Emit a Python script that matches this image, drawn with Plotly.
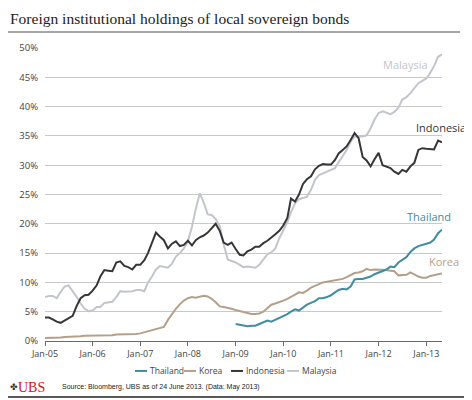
import pandas as pd
import plotly.graph_objects as go

# ---- data (monthly, Jan-2005 .. May-2013) ----
start_month = "2005-01-01"
n_months = 101

indonesia = [4.0, 4.0, 3.7, 3.3, 3.1, 3.5, 3.9, 4.3, 6.0, 7.3,
             7.8, 7.9, 8.6, 9.5, 11.0, 12.1, 12.0, 11.9, 13.4, 13.6,
             12.8, 12.6, 12.2, 13.0, 13.0, 13.8, 15.0, 16.8, 18.5, 17.8,
             17.2, 15.8, 16.6, 17.0, 16.2, 16.4, 17.1, 16.3, 17.2, 17.7,
             18.0, 18.5, 19.3, 20.0, 18.8, 16.8, 16.4, 16.8, 15.7, 14.7,
             14.6, 15.3, 15.6, 16.1, 16.1, 16.7, 17.1, 17.6, 18.2, 18.8,
             19.7, 21.0, 24.3, 23.8, 25.0, 26.8, 27.6, 28.1, 29.3, 29.9,
             30.2, 30.1, 30.1, 30.9, 32.0, 32.6, 33.2, 34.3, 35.5, 34.6,
             31.4, 30.8, 29.8, 31.0, 32.1, 30.0, 29.7, 29.5, 28.9, 28.5,
             29.2, 28.9, 29.8, 30.4, 32.6, 32.9, 32.8, 32.8, 32.7, 34.2,
             33.9]

malaysia = [7.5, 7.7, 7.7, 7.3, 8.4, 9.3, 9.5, 8.6, 7.5, 6.4,
            5.5, 5.1, 5.2, 5.8, 5.8, 6.5, 6.6, 6.7, 7.5, 8.5,
            8.4, 8.4, 8.5, 8.7, 8.7, 8.5, 10.0, 11.0, 12.2, 12.8,
            12.6, 12.5, 13.2, 14.4, 15.0, 15.8, 17.0, 19.5, 22.5, 25.2,
            23.6, 21.6, 21.5, 20.8, 19.6, 16.5, 13.9, 13.7, 13.4, 13.0,
            12.6, 12.7, 12.6, 12.5, 13.0, 14.0, 14.8, 15.1, 15.8, 17.5,
            19.0, 20.3, 22.0, 23.5, 24.2, 24.4, 24.6, 25.8, 27.5, 28.3,
            28.6, 28.8, 29.2, 29.5, 30.5, 31.6, 32.6, 34.0, 34.9, 34.9,
            34.9, 35.1, 36.3, 37.8, 38.9, 39.2, 38.9, 38.7, 39.1, 39.8,
            41.2, 41.6, 42.3, 43.2, 44.0, 44.4, 44.8, 45.8, 46.9, 48.5,
            48.9]

korea = [0.5, 0.5, 0.5, 0.6, 0.6, 0.7, 0.7, 0.8, 0.8, 0.8,
         0.9, 0.9, 0.9, 0.9, 0.9, 0.9, 0.9, 1.0, 1.1, 1.1,
         1.1, 1.2, 1.2, 1.2, 1.3, 1.5, 1.7, 1.9, 2.1, 2.2,
         2.4, 3.6, 4.6, 5.5, 6.3, 6.9, 7.3, 7.5, 7.4, 7.5,
         7.7, 7.6, 7.2, 6.6, 5.9, 5.8, 5.7, 5.5, 5.3, 5.1,
         4.9, 4.7, 4.6, 4.6, 4.7, 5.0, 5.6, 6.2, 6.4, 6.6,
         6.9, 7.2, 7.5, 7.9, 8.3, 8.2, 8.6, 9.1, 9.4, 9.7,
         10.0, 10.1, 10.2, 10.3, 10.4, 10.6, 10.9, 11.3, 11.6, 11.7,
         11.9, 12.3, 12.1, 12.2, 12.2, 12.2, 12.1, 12.0, 11.9, 11.2,
         11.3, 11.3, 11.7, 11.3, 11.0, 10.8, 10.8, 11.1, 11.3, 11.4,
         11.5]

thailand_start = "2009-01-01"
thailand = [2.9, 2.8, 2.6, 2.5, 2.6, 2.6, 2.9, 3.2, 3.5, 3.3,
            3.6, 3.9, 4.2, 4.6, 5.0, 5.4, 5.2, 5.7, 6.2, 6.5,
            6.8, 7.3, 7.3, 7.5, 7.8, 8.3, 8.7, 8.9, 8.8, 9.3,
            10.5, 10.6, 10.6, 10.8, 11.0, 11.4, 11.7, 11.9, 12.2, 12.7,
            12.6, 13.4, 13.9, 14.3, 15.2, 15.8, 16.2, 16.4, 16.5, 16.8,
            17.3, 18.4, 19.0]

y_ticks = [0, 5, 10, 15, 20, 25, 30, 35, 40, 45, 50]
y_tick_labels = [f"{v}%" for v in y_ticks]
legend_names = ["Thailand", "Korea", "Indonesia", "Malaysia"]

dates = pd.date_range(start_month, periods=n_months, freq="MS")
th_dates = pd.date_range(thailand_start, periods=len(thailand), freq="MS")

C_TH = "#3f8ca3"
C_KO = "#b69f89"
C_ID = "#363636"
C_MY = "#c2c5cc"
colors = {"Thailand": C_TH, "Korea": C_KO, "Indonesia": C_ID, "Malaysia": C_MY}

fig = go.Figure()
fig.add_trace(go.Scatter(x=dates, y=malaysia, name="Malaysia", mode="lines",
                         line=dict(color=C_MY, width=2)))
fig.add_trace(go.Scatter(x=dates, y=korea, name="Korea", mode="lines",
                         line=dict(color=C_KO, width=2)))
fig.add_trace(go.Scatter(x=th_dates, y=thailand, name="Thailand", mode="lines",
                         line=dict(color=C_TH, width=2)))
fig.add_trace(go.Scatter(x=dates, y=indonesia, name="Indonesia", mode="lines",
                         line=dict(color=C_ID, width=2)))

# page is offset by the 8px body margin, so figure is 464x392
W, H = 464, 392
OFF = 8
L, R, T, B = 45, 442, 48, 341.5   # plot area in page pixels
pw, ph = R - L, B - T


def px(xp):
    return (xp - L) / pw


def py(yp):
    return (B - yp) / ph


ann = []
shapes = []
lbl_font = "Open Sans, Noto Sans, sans-serif"
for text, xp, yp in [("Malaysia", 405.5, 65), ("Indonesia", 441, 128),
                     ("Thailand", 428.5, 217), ("Korea", 443.5, 262)]:
    ann.append(dict(text=text, xref="paper", yref="paper", x=px(xp), y=py(yp),
                    xanchor="center", yanchor="middle", showarrow=False,
                    font=dict(family=lbl_font, size=11, color=colors[text])))

# legend (compact, as in the original)
leg_y = 371.5
for name, x0 in zip(legend_names, [135, 184, 231, 287]):
    shapes.append(dict(type="line", xref="paper", yref="paper",
                       x0=px(x0), x1=px(x0 + 12), y0=py(leg_y), y1=py(leg_y),
                       line=dict(color=colors[name], width=2)))
    ann.append(dict(text=name, xref="paper", yref="paper", x=px(x0 + 13), y=py(leg_y),
                    xanchor="left", yanchor="middle", showarrow=False,
                    font=dict(family=lbl_font, size=8.5, color="#444")))

ann.append(dict(text="Foreign institutional holdings of local sovereign bonds",
                xref="paper", yref="paper", x=px(8), y=py(18),
                xanchor="left", yanchor="middle", showarrow=False,
                font=dict(family="Liberation Serif, serif", size=15.5, color="#222")))
ann.append(dict(text="✤", xref="paper", yref="paper", x=px(8), y=py(388),
                xanchor="left", yanchor="middle", showarrow=False,
                font=dict(family="DejaVu Sans", size=9, color="#333")))
ann.append(dict(text="UBS", xref="paper", yref="paper", x=px(16), y=py(388),
                xanchor="left", yanchor="middle", showarrow=False,
                font=dict(family="Liberation Serif, serif", size=14, color="#d4141c")))
ann.append(dict(text="Source: Bloomberg, UBS as of 24 June 2013. (Data: May 2013)",
                xref="paper", yref="paper", x=px(60), y=py(388),
                xanchor="left", yanchor="middle", showarrow=False,
                font=dict(family="Liberation Sans Narrow, Liberation Sans, sans-serif",
                          size=7, color="#222")))

shapes += [
    dict(type="line", xref="paper", yref="paper", x0=px(8), x1=px(460),
         y0=py(32), y1=py(32), line=dict(color="#8a8a8a", width=1.5)),
    dict(type="line", xref="paper", yref="paper", x0=px(469.5), x1=px(469.5),
         y0=py(398), y1=py(8), line=dict(color="#333", width=1.5)),
    dict(type="line", xref="paper", yref="paper", x0=px(8), x1=px(469.5),
         y0=py(397.5), y1=py(397.5), line=dict(color="#222", width=1.5)),
]

fig.update_layout(
    width=W, height=H,
    margin=dict(l=L - OFF, r=W + OFF - R, t=T - OFF, b=H + OFF - B, pad=0),
    paper_bgcolor="white", plot_bgcolor="white",
    font=dict(family="Open Sans, Noto Sans, sans-serif", color="#444"),
    showlegend=False,
    annotations=ann,
    shapes=shapes,
    xaxis=dict(type="date", range=["2005-01-01", "2013-05-01"],
               tick0="2005-01-01", dtick="M12", tickformat="%b-%y",
               showgrid=False, showline=True, linecolor="#6a6a6a", linewidth=1,
               ticks="outside", ticklen=4, tickcolor="#6a6a6a",
               tickfont=dict(size=9, color="#444"), zeroline=False),
    yaxis=dict(range=[0, 50], tickmode="array", tickvals=y_ticks,
               ticktext=y_tick_labels,
               showgrid=True, gridcolor="#c9c9c9", gridwidth=1,
               zeroline=False, showline=False, ticks="",
               tickfont=dict(size=9.5, color="#444"), ticklabelstandoff=6),
)

fig.write_html("out.html")
